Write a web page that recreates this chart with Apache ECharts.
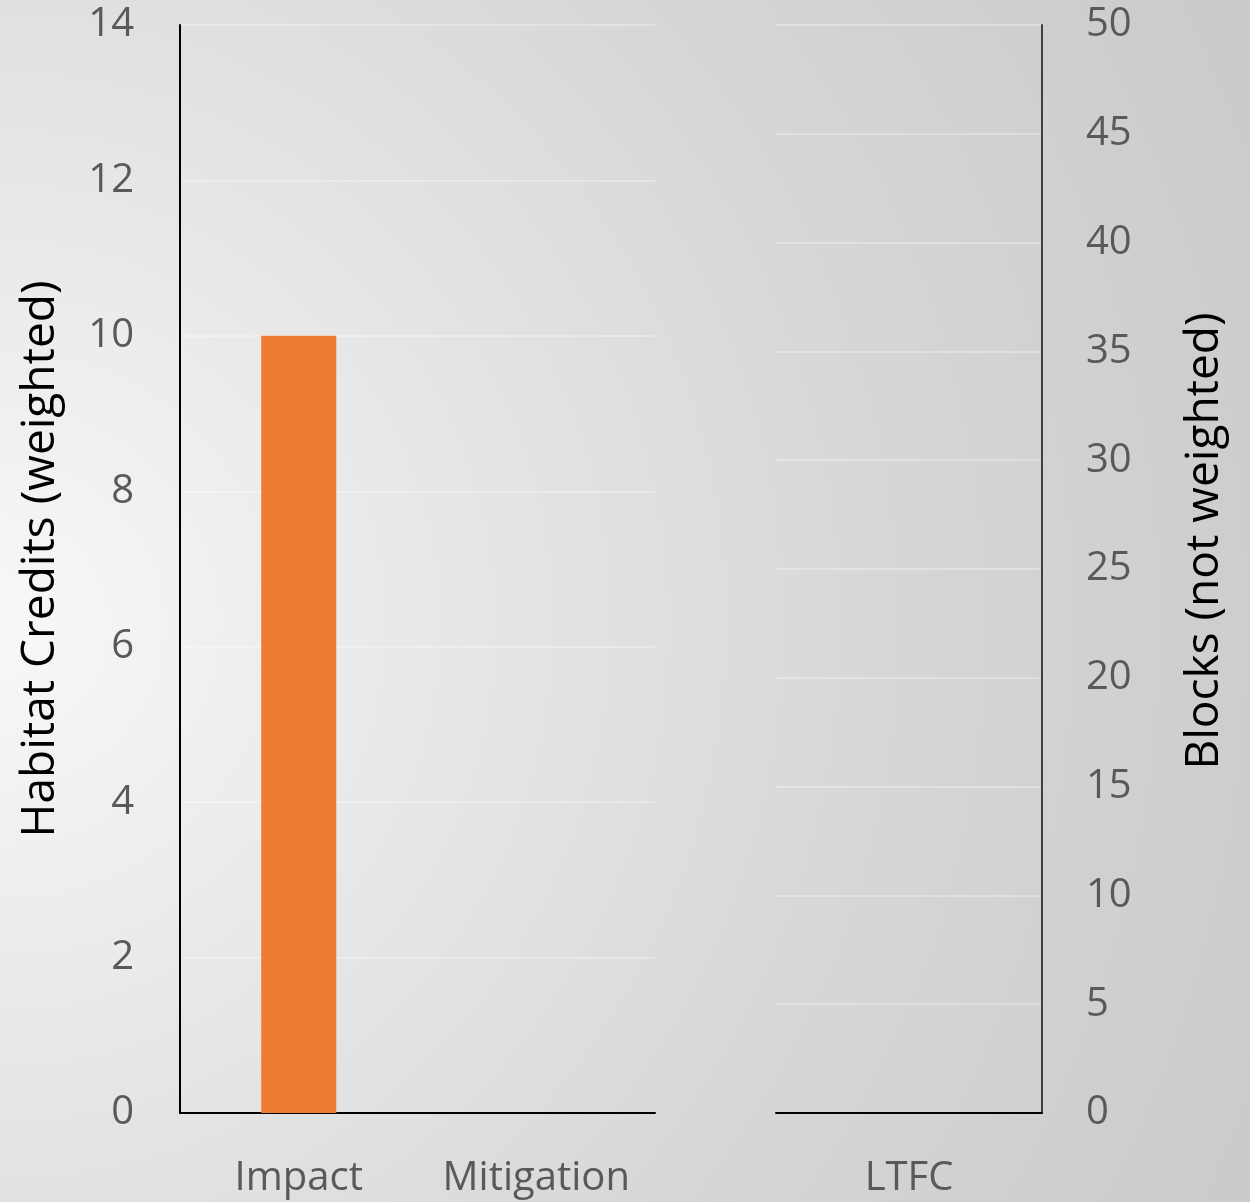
<!DOCTYPE html>
<html>
<head>
<meta charset="utf-8">
<script src="https://cdn.jsdelivr.net/npm/echarts@6/dist/echarts.min.js"></script>
<style>
  html, body { margin: 0; padding: 0; }
  #chart {
    width: 1250px; height: 1202px;
    background: radial-gradient(circle at 0% 52%, #f8f8f8 0px, #e4e4e4 520px, #d6d6d6 900px, #cbcbcb 1350px);
  }
</style>
</head>
<body>
<div id="chart"></div>
<script>
// Habitat credits (left panel) and blocks (right panel)
const creditCategories = ['Impact', 'Mitigation'];
const creditValues = [10, 0];
const blockCategories = ['LTFC'];
const blockValues = [0];

const leftAxisTitle = 'Habitat Credits (weighted)';
const rightAxisTitle = 'Blocks (not weighted)';

const FONT = 'Open Sans';
const tickColor = '#595959';
const gridLineStyle = { color: 'rgba(255,255,255,0.3)', width: 2 };

const chart = echarts.init(document.getElementById('chart'), null, { renderer: 'canvas' });

const catLabel = { color: tickColor, fontFamily: FONT, fontSize: 40, margin: 46, interval: 0 };
const valLabel = (margin) => ({
  color: tickColor, fontFamily: FONT, fontSize: 40, margin: margin
});

chart.setOption({
  backgroundColor: 'transparent',
  animation: false,
  grid: [
    { left: 180, right: 595, top: 25, bottom: 89 },
    { left: 776, right: 208, top: 25, bottom: 89 }
  ],
  xAxis: [
    {
      type: 'category', gridIndex: 0, data: creditCategories,
      axisLine: { lineStyle: { color: '#000', width: 2 } },
      axisTick: { show: false },
      axisLabel: catLabel
    },
    {
      type: 'category', gridIndex: 1, data: blockCategories,
      axisLine: { lineStyle: { color: '#000', width: 2 } },
      axisTick: { show: false },
      axisLabel: catLabel
    }
  ],
  yAxis: [
    {
      type: 'value', gridIndex: 0, position: 'left',
      min: 0, max: 14, interval: 2,
      axisLine: { show: true, lineStyle: { color: '#000', width: 2 } },
      axisTick: { show: false },
      axisLabel: valLabel(46),
      splitLine: { lineStyle: gridLineStyle },
      name: leftAxisTitle, nameLocation: 'middle', nameRotate: 90, nameGap: 116,
      nameTextStyle: { color: '#000', fontFamily: FONT, fontSize: 46, padding: [0, 0, 0, 20] }
    },
    {
      type: 'value', gridIndex: 1, position: 'right',
      min: 0, max: 50, interval: 5,
      axisLine: { show: true, lineStyle: { color: '#404040', width: 2 } },
      axisTick: { show: false },
      axisLabel: valLabel(44),
      splitLine: { lineStyle: gridLineStyle },
      name: rightAxisTitle, nameLocation: 'middle', nameRotate: 90, nameGap: 140,
      nameTextStyle: { color: '#000', fontFamily: FONT, fontSize: 46, padding: [0, 0, 0, 56] }
    }
  ],
  series: [
    {
      type: 'bar', xAxisIndex: 0, yAxisIndex: 0, data: creditValues,
      barWidth: '31.6%', itemStyle: { color: '#ED7D31' }
    },
    {
      type: 'bar', xAxisIndex: 1, yAxisIndex: 1, data: blockValues,
      barWidth: '31.6%', itemStyle: { color: '#ED7D31' }
    }
  ]
});
</script>
</body>
</html>
